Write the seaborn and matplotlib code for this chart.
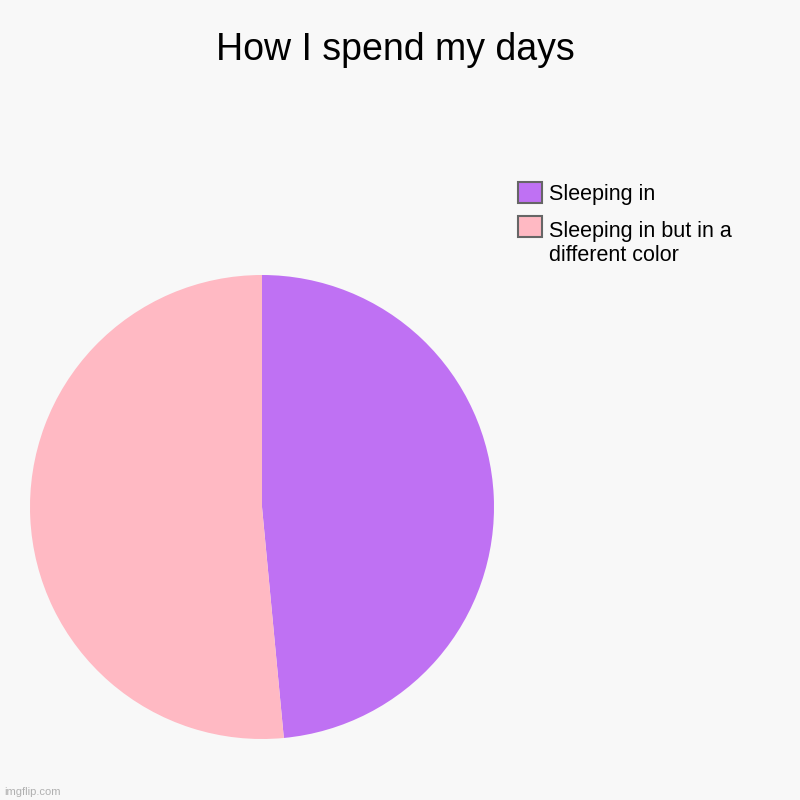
import matplotlib
matplotlib.use('Agg')
import matplotlib.pyplot as plt
import seaborn as sns
from matplotlib.patches import Patch, Rectangle
from matplotlib.legend_handler import HandlerPatch

sns.set_theme(style='white', rc={'figure.facecolor': '#f8f8f8', 'axes.facecolor': '#f8f8f8',
                                 'text.color': 'black'})
plt.rcParams['font.family'] = ['Liberation Sans', 'DejaVu Sans']

# data
labels = ['Sleeping in', 'Sleeping in but in a\ndifferent color']
values = [48.5, 51.5]
colors = sns.color_palette(['#bf71f3', '#ffb9c3'])

fig = plt.figure(figsize=(8, 8), dpi=100)
ax = fig.add_axes([0.0375, 0.07625, 0.58, 0.58])
ax.pie(values, colors=colors, startangle=90, counterclock=False,
       radius=1, wedgeprops={'linewidth': 0})
ax.set_xlim(-1, 1)
ax.set_ylim(-1, 1)
ax.set_aspect('equal')
ax.axis('off')

fig.text(0.494, 0.937, 'How I spend my days', ha='center', va='center',
         fontsize=27, color='black')


# legend box sits next to the first line of a wrapped label
def top_aligned(nlines):
    def make(legend, orig_handle, xdescent, ydescent, width, height, fontsize):
        shift = (nlines - 1) * 0.82 * fontsize
        return Rectangle((-xdescent, -ydescent + shift), width, height)
    return HandlerPatch(patch_func=make)


handles = [Patch(facecolor=c, edgecolor='#666666', linewidth=1.5) for c in colors]
hmap = {h: top_aligned(lab.count('\n') + 1) for h, lab in zip(handles, labels)}
leg = fig.legend(handles, labels, loc='upper left', bbox_to_anchor=(0.6475, 0.772),
                 frameon=False, fontsize=15.5, handlelength=1.1, handleheight=1.1,
                 handletextpad=0.35, labelspacing=0.75, borderpad=0, borderaxespad=0,
                 handler_map=hmap)
for t in leg.get_texts():
    t.set_color('black')

fig.text(0.005, 0.006, 'imgflip.com', fontsize=8, color='#b0b0b0')

fig.savefig('out.png', dpi=100, facecolor=fig.get_facecolor())
